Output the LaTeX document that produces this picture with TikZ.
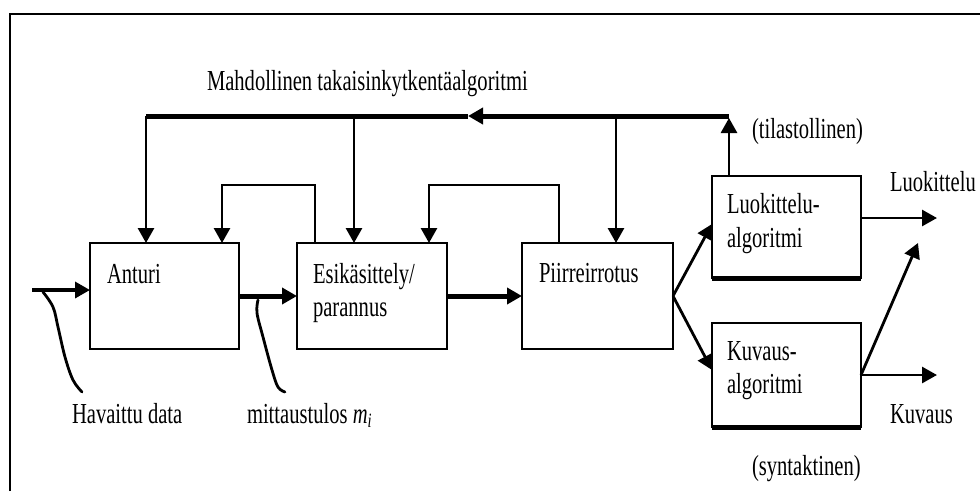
\documentclass[tikz,border=0pt]{standalone}
\usepackage{fontspec}
\setmainfont[FakeStretch=0.71]{Liberation Serif}
\usetikzlibrary{arrows.meta}
\begin{document}
\begin{tikzpicture}[x=1pt,y=-1pt,
  box/.style={draw, rectangle, line width=2.8pt, inner sep=0pt, outer sep=0pt},
  lbl/.style={anchor=base west, inner sep=0pt, outer sep=0pt, font=\fontsize{29}{34}\selectfont},
  arr/.style={-{Triangle[length=15pt,width=16pt]}},
  wire/.style={line width=2.8pt},
  heavy/.style={line width=5pt},
  squiggle/.style={line width=2.8pt, line cap=round}]
\useasboundingbox (0,0) rectangle (980,491);

% frame (top and left edges)
\draw[line width=2.6pt] (10,491) -- (10,14) -- (980,14);

% processing blocks
\node[box, minimum width=149pt, minimum height=106pt] (anturi) at (164.5,296) {};
\node[box, minimum width=150pt, minimum height=106pt] (esi)    at (372,296) {};
\node[box, minimum width=151pt, minimum height=106pt] (piirre) at (597.5,296) {};
\node[box, minimum width=149pt, minimum height=102pt] (luok)   at (786.5,227) {};
\node[box, minimum width=149pt, minimum height=104pt] (kuv)    at (786.5,375) {};
\draw[heavy] (luok.south west) -- (luok.south east);
\draw[heavy] (kuv.south west) -- (kuv.south east);

% block texts
\node[lbl] (anturiT) at (107,283) {Anturi};
\node[lbl] (esiT1) at (313,283) {Esikäsittely/};
\node[lbl] (esiT2) at (313,316) {parannus};
\node[lbl] (piirreT) at (539,282) {Piirreirrotus};
\node[lbl] (luokT1) at (727,213) {Luokittelu-};
\node[lbl] (luokT2) at (727,247) {algoritmi};
\node[lbl] (kuvT1) at (727,360) {Kuvaus-};
\node[lbl] (kuvT2) at (727,393) {algoritmi};

% free labels
\node[lbl] (fbT) at (207,90) {Mahdollinen takaisinkytkentäalgoritmi};
\node[lbl] (stat) at (752,138) {(tilastollinen)};
\node[lbl] (synt) at (752,475) {(syntaktinen)};
\node[lbl] (outL) at (890,191) {Luokittelu};
\node[lbl] (outK) at (890,423) {Kuvaus};
\node[lbl] (dataT) at (72,423) {Havaittu data};
\node[lbl] (measT) at (247,423) {mittaustulos \textit{m}\textsubscript{\textit{i}}};

% main signal path
\coordinate (inp) at (32,290);
\draw[wire, line width=3.4pt, arr] (inp) -- (inp -| anturi.west);
\draw[heavy, arr] (anturi.east) -- (esi.west);
\draw[heavy, arr] (esi.east) -- (piirre.west);
\draw[wire, arr] (piirre.east) -- ([yshift=3pt]luok.west);
\draw[wire, arr] (piirre.east) -- ([yshift=5pt]kuv.west);
\coordinate (outLtip) at (937,218);
\coordinate (outKtip) at (937,375);
\coordinate (diagTip) at (918,243);
\draw[wire, arr] ([yshift=9pt]luok.east) -- (outLtip);
\draw[wire, arr] (kuv.east) -- (outKtip);
\draw[wire, arr] (kuv.east) -- (diagTip);

% feedback bus
\coordinate (busR) at (729,116);
\coordinate (busMid) at (468,116);
\coordinate (busL) at (146,116);
\coordinate (busE) at (354,116);
\coordinate (busP) at (616,116);
\draw[wire, arr] (busR |- luok.north) -- (729,118);
\draw[line width=5pt, arr] (busR) -- (busMid);
\draw[line width=5pt] (busMid) -- (busL);
\draw[wire, arr] (busL) -- (busL |- anturi.north);
\draw[wire, arr] (busE) -- (busE |- esi.north);
\draw[wire, arr] (busP) -- (busP |- piirre.north);

% local feedback loops
\coordinate (loopA) at (222,185);
\coordinate (loopB) at (429,185);
\draw[wire, arr] (315,0 |- esi.north) -- (315,185) -- (loopA) -- (loopA |- anturi.north);
\draw[wire, arr] (559,0 |- piirre.north) -- (559,185) -- (loopB) -- (loopB |- esi.north);

% pointer curves to the signal lines
\draw[squiggle] plot[smooth, tension=0.6] coordinates {(43,292) (53,307) (58,327) (65,357) (73,380) (82,392)};
\draw[squiggle] plot[smooth, tension=0.6] coordinates {(258,300) (257,313) (263,337) (272,370) (278,387) (285,392)};
\end{tikzpicture}
\end{document}
